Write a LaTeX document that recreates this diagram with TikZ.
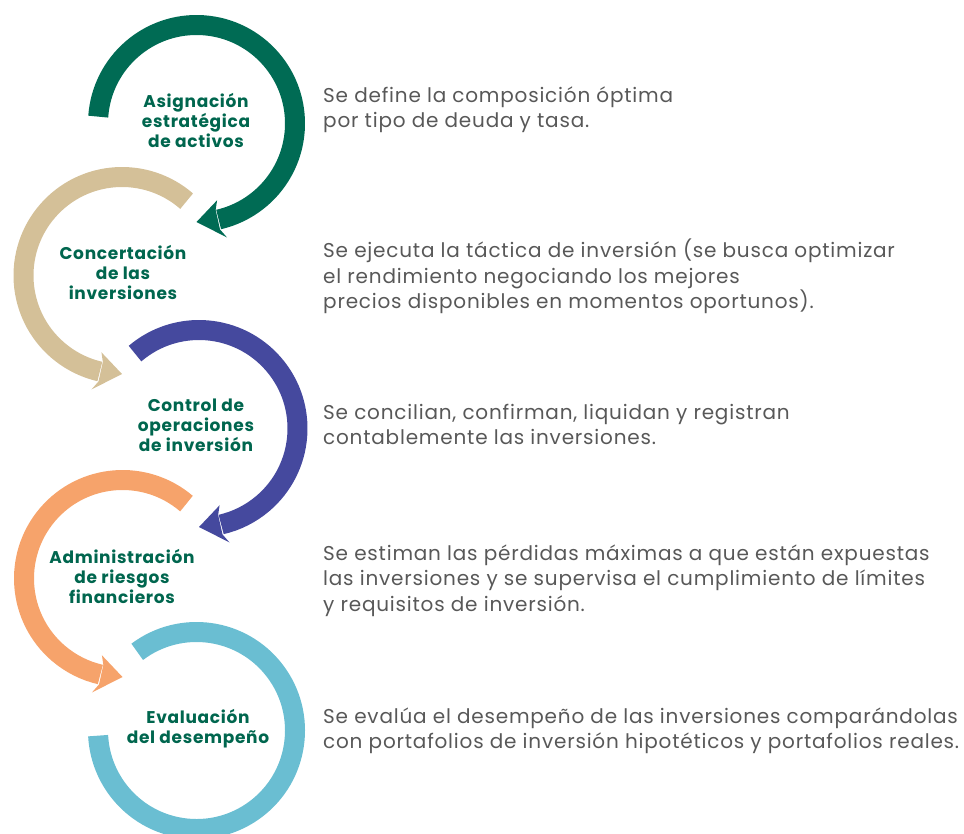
\documentclass[tikz,border=0pt]{standalone}
\usepackage{fontspec}
\setmainfont{Poppins}
\newfontfamily\descfont{Poppins}[LetterSpace=4]
\newfontfamily\lblfont{Poppins}[LetterSpace=4]
\definecolor{cgreen}{RGB}{0,107,84}
\definecolor{ctan}{RGB}{212,192,152}
\definecolor{cblue}{RGB}{69,73,158}
\definecolor{corange}{RGB}{246,163,107}
\definecolor{ccyan}{RGB}{106,190,210}
\definecolor{ctext}{RGB}{0,102,78}
\definecolor{cdesc}{RGB}{88,88,88}
\begin{document}
\begin{tikzpicture}[x=1pt,y=1pt,
  ring/.style={line width=20pt},
  lbl/.style={text=ctext, font=\lblfont\bfseries\fontsize{17}{20}\selectfont, align=center, inner sep=0pt},
  desc/.style={text=cdesc, font=\descfont\fontsize{20}{25.5}\selectfont, align=left, anchor=west, inner sep=0pt}]
\useasboundingbox (0,0) rectangle (964,-833);
\coordinate (c1) at (196.5,-123.5);
\coordinate (c2) at (122,-275.5);
\coordinate (c3) at (199,-428.5);
\coordinate (c4) at (122.5,-578.5);
\coordinate (c5) at (196.5,-730.5);
% green ring, clockwise
\draw[ring,cgreen] (c1) ++(176:98.5) arc[start angle=176,end angle=-77,radius=98.5];
\fill[cgreen,shift={(c1)}] (-90:98.5) -- (-75:118) -- (-77.5:108.5) -- (-77.5:88.5) -- (-75:79.5) -- cycle;
% tan ring, counterclockwise
\draw[ring,ctan] (c2) ++(49:98.5) arc[start angle=49,end angle=257,radius=98.5];
\fill[ctan,shift={(c2)}] (270:98.5) -- (255:118) -- (257.5:108.5) -- (257.5:88.5) -- (255:79.5) -- cycle;
% blue ring, clockwise
\draw[ring,cblue] (c3) ++(130.5:98.5) arc[start angle=130.5,end angle=-77,radius=98.5];
\fill[cblue,shift={(c3)}] (-90:98.5) -- (-75:118) -- (-77.5:108.5) -- (-77.5:88.5) -- (-75:79.5) -- cycle;
% orange ring, counterclockwise
\draw[ring,corange] (c4) ++(49.5:98.5) arc[start angle=49.5,end angle=257,radius=98.5];
\fill[corange,shift={(c4)}] (270:98.5) -- (255:118) -- (257.5:108.5) -- (257.5:88.5) -- (255:79.5) -- cycle;
% cyan ring
\draw[ring,ccyan] (c5) ++(127:98.5) arc[start angle=127,end angle=-177,radius=98.5];
% labels
\node[lbl] (l1) at (196,-120) {Asignación\\estratégica\\de activos};
\node[lbl] (l2) at (123,-272.5) {Concertación\\de las\\inversiones};
\node[lbl] (l3) at (196,-425) {Control de\\operaciones\\de inversión};
\node[lbl] (l4) at (122,-576.5) {Administración\\de riesgos\\financieros};
\node[lbl] (l5) at (198,-728.5) {Evaluación\\del desempeño};
% descriptions
\node[desc] (d1) at (323,-109.5) {Se define la composición óptima\\por tipo de deuda y tasa.};
\node[desc] (d2) at (323,-276.5) {Se ejecuta la táctica de inversión (se busca optimizar\\el rendimiento negociando los mejores\\precios disponibles en momentos oportunos).};
\node[desc] (d3) at (323,-424.5) {Se concilian, confirman, liquidan y registran\\contablemente las inversiones.};
\node[desc] (d4) at (323,-580.5) {Se estiman las pérdidas máximas a que están expuestas\\las inversiones y se supervisa el cumplimiento de límites\\y requisitos de inversión.};
\node[desc] (d5) at (323,-731) {Se evalúa el desempeño de las inversiones comparándolas\\con portafolios de inversión hipotéticos y portafolios reales.};
\end{tikzpicture}
\end{document}
